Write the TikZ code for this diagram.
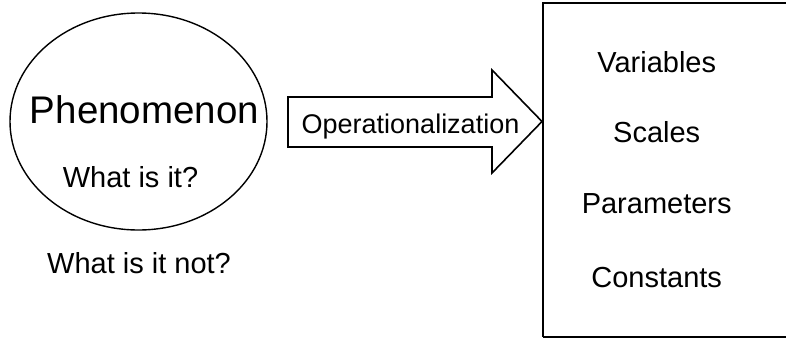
\documentclass[tikz,border=0pt]{standalone}
\usepackage{fontspec}
\setmainfont{Liberation Sans}
\begin{document}
\begin{tikzpicture}[x=1pt,y=-1pt,
  bigtxt/.style={anchor=base,inner sep=0pt,font=\fontsize{38.5}{40}\selectfont},
  smalltxt/.style={anchor=base,inner sep=0pt,font=\fontsize{29}{31}\selectfont},
  optxt/.style={anchor=base,inner sep=0pt,font=\fontsize{27}{29}\selectfont},
  shape line/.style={draw=black,line width=1.6pt,line join=miter}]
\useasboundingbox (0,0) rectangle (786,338);
\clip (0,0) rectangle (786,338);
% ellipse
\draw[line width=1.4pt] (138.5,121.5) ellipse [x radius=128.5, y radius=108.5];
\node[bigtxt] (phen) at (144.5,123) {Phenomenon};
\node[smalltxt] (what) at (130.5,187) {What is it?};
\node[smalltxt] (whatnot) at (139,273) {What is it not?};
% block arrow
\draw[shape line] (288,97) -- (492,97) -- (492,70) -- (542,121.5) -- (492,173) -- (492,147) -- (288,147) -- cycle;
\node[optxt] (op) at (410.5,133) {Operationalization};
% box
\draw[shape line] (543,337) -- (543,3) -- (800,3);
\draw[shape line] (543,337) -- (800,337);
\node[smalltxt] (var) at (656.7,72) {Variables};
\node[smalltxt] (sca) at (656.7,142) {Scales};
\node[smalltxt] (par) at (656.7,213) {Parameters};
\node[smalltxt] (con) at (656.7,287) {Constants};
\end{tikzpicture}
\end{document}
